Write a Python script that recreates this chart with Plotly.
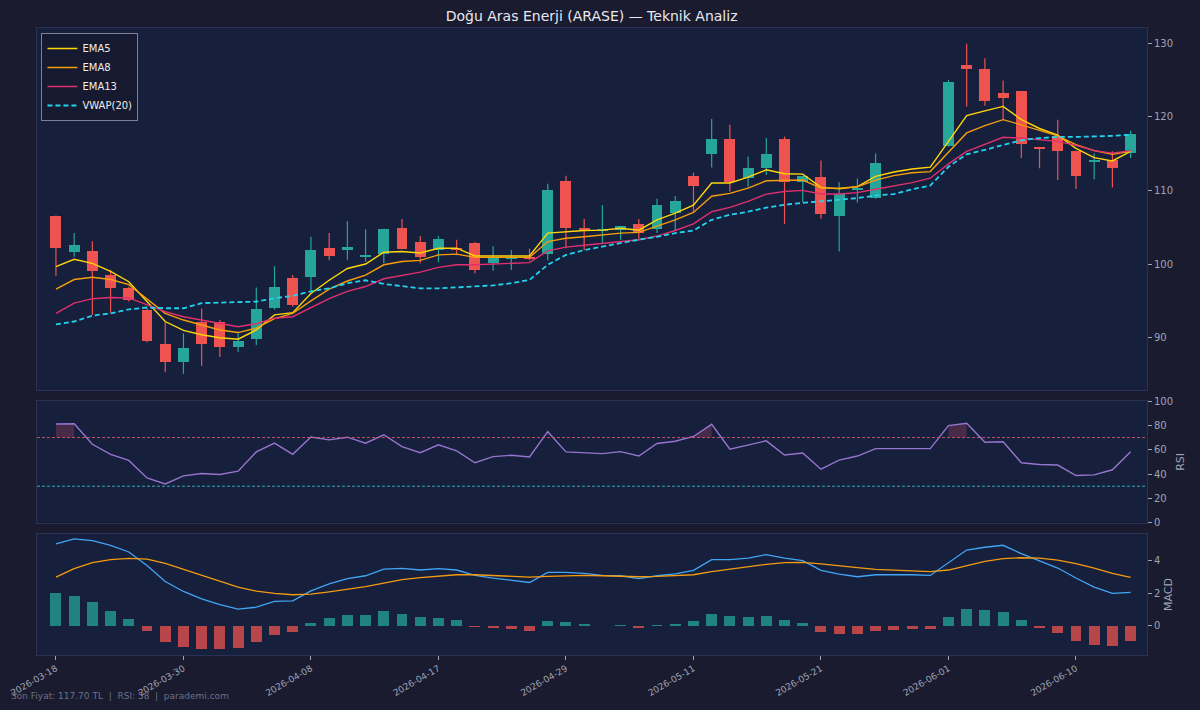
import plotly.graph_objects as go
from plotly.subplots import make_subplots

# trading days (Kurban Bayrami 05-27..05-29 forward filled, no candle drawn)
dates = [
    "2026-03-18", "2026-03-19", "2026-03-23", "2026-03-24", "2026-03-25", "2026-03-26",
    "2026-03-27", "2026-03-30", "2026-03-31", "2026-04-01", "2026-04-02", "2026-04-03",
    "2026-04-06", "2026-04-07", "2026-04-08", "2026-04-09", "2026-04-10", "2026-04-13",
    "2026-04-14", "2026-04-15", "2026-04-16", "2026-04-17", "2026-04-20", "2026-04-21",
    "2026-04-22", "2026-04-24", "2026-04-27", "2026-04-28", "2026-04-29", "2026-04-30",
    "2026-05-04", "2026-05-05", "2026-05-06", "2026-05-07", "2026-05-08", "2026-05-11",
    "2026-05-12", "2026-05-13", "2026-05-14", "2026-05-15", "2026-05-18", "2026-05-20",
    "2026-05-21", "2026-05-22", "2026-05-25", "2026-05-26", "2026-05-27", "2026-05-28",
    "2026-05-29", "2026-06-01", "2026-06-02", "2026-06-03", "2026-06-04", "2026-06-05",
    "2026-06-08", "2026-06-09", "2026-06-10", "2026-06-11", "2026-06-12", "2026-06-15",
]

open_ = [106.5, 101.7, 101.8, 98.5, 96.7, 93.8, 89.15, 86.7, 92.2, 92.2,
         88.8, 89.8, 94.0, 98.1, 98.2, 102.15, 101.9, 101.0, 101.4, 104.9,
         103.0, 101.9, 102.2, 102.8, 100.2, 100.8, 100.9, 101.3, 111.25, 104.9,
         104.6, 104.6, 105.45, 104.7, 106.9, 112.0, 115.0, 117.0, 111.65, 113.0,
         116.95, 111.1, 111.8, 106.55, 110.1, 109.0, None, None, None, 116.05,
         127.05, 126.5, 123.2, 123.45, 115.8, 117.4, 115.4, 113.9, 114.15, 115.05]
high = [106.6, 104.2, 103.1, 99.2, 96.9, 94.0, 92.2, 90.6, 93.95, 92.4,
        90.8, 96.8, 99.7, 98.5, 103.7, 104.2, 105.8, 104.7, 104.8, 106.1,
        103.8, 103.8, 103.3, 103.0, 102.4, 101.9, 102.1, 110.9, 112.0, 106.1,
        108.0, 105.1, 106.1, 108.85, 109.25, 112.4, 119.7, 118.9, 114.6, 117.1,
        117.3, 112.0, 114.05, 111.1, 111.6, 115.0, None, None, None, 125.0,
        129.9, 127.95, 124.9, 123.5, 115.9, 119.6, 115.4, 115.05, 115.3, 118.1]
low = [98.4, 101.0, 93.1, 93.4, 94.9, 89.4, 85.3, 85.1, 86.2, 87.4,
       88.1, 89.0, 93.8, 94.2, 96.4, 100.5, 100.6, 100.3, 100.1, 102.0,
       100.1, 100.25, 101.2, 98.75, 99.1, 99.2, 100.5, 100.5, 102.15, 101.9,
       102.8, 103.3, 103.2, 104.2, 104.55, 107.1, 113.1, 109.85, 110.5, 112.1,
       105.45, 108.35, 106.15, 101.7, 108.35, 108.85, None, None, None, 115.95,
       121.4, 121.5, 119.6, 114.4, 113.0, 111.4, 110.2, 111.5, 110.4, 114.4]
close = [102.2, 102.6, 99.0, 96.7, 95.1, 89.6, 86.7, 88.6, 89.15, 88.8,
         89.5, 93.9, 96.9, 94.45, 101.9, 101.1, 102.25, 101.2, 104.7, 102.1,
         100.9, 103.4, 101.9, 99.2, 100.8, 100.9, 100.8, 110.1, 104.9, 104.65,
         104.7, 105.1, 104.2, 107.95, 108.6, 110.6, 117.0, 111.1, 113.0, 115.0,
         111.2, 111.9, 106.8, 109.55, 110.3, 113.7, None, None, None, 124.65,
         126.5, 122.15, 122.5, 116.3, 115.65, 115.4, 112.0, 114.0, 113.0, 117.7]

ema5 = [99.66, 100.65, 100.1, 99.0, 97.6, 94.9, 92.2, 91.0, 90.4, 90.0,
        89.8, 91.05, 93.1, 93.4, 96.0, 97.8, 99.4, 100.0, 101.6, 101.7,
        101.5, 102.15, 102.15, 101.1, 101.1, 101.1, 101.1, 104.2, 104.4, 104.55,
        104.6, 104.85, 104.6, 106.0, 106.9, 108.0, 111.0, 111.0, 111.8, 112.8,
        112.25, 112.2, 110.4, 110.2, 110.5, 111.9, 112.5, 112.9, 113.15, 116.6,
        120.15, 120.8, 121.4, 119.6, 118.4, 117.5, 115.7, 114.45, 114.0, 115.3]
ema8 = [96.6, 97.9, 98.2, 97.9, 97.2, 95.2, 93.3, 92.4, 91.7, 91.05,
        90.7, 91.3, 92.6, 93.3, 95.0, 96.6, 97.7, 98.5, 99.9, 100.35,
        100.5, 101.25, 101.35, 100.9, 100.9, 100.9, 100.9, 103.05, 103.5, 103.7,
        104.0, 104.2, 104.3, 105.1, 106.0, 107.0, 109.2, 109.6, 110.3, 111.3,
        111.3, 111.4, 110.3, 110.3, 110.5, 111.4, 112.0, 112.4, 112.55, 115.15,
        117.8, 118.8, 119.6, 118.9, 118.2, 117.4, 116.2, 115.4, 114.9, 115.3]
ema13 = [93.3, 94.7, 95.3, 95.45, 95.4, 94.45, 93.55, 92.85, 92.4, 91.9,
         91.5, 91.9, 92.65, 92.85, 94.1, 95.3, 96.3, 96.95, 98.0, 98.5,
         98.9, 99.55, 99.9, 99.9, 100.0, 100.1, 100.2, 101.8, 102.3, 102.55,
         102.8, 103.05, 103.3, 103.8, 104.55, 105.45, 107.1, 107.7, 108.5, 109.5,
         109.85, 110.0, 109.5, 109.5, 109.7, 110.15, 110.6, 111.05, 111.65, 113.6,
         115.3, 116.2, 117.2, 117.1, 116.9, 116.65, 116.1, 115.4, 115.05, 115.4]
vwap20 = [91.8, 92.2, 93.0, 93.3, 93.85, 94.1, 94.0, 94.0, 94.7, 94.8,
          94.9, 94.9, 95.35, 95.7, 96.3, 96.7, 97.4, 97.8, 97.3, 96.95,
          96.7, 96.7, 96.8, 96.95, 97.1, 97.4, 97.85, 99.9, 101.25, 101.9,
          102.4, 102.9, 103.3, 103.7, 104.2, 104.55, 106.0, 106.7, 107.1, 107.65,
          108.05, 108.3, 108.5, 108.7, 108.95, 109.3, 109.5, 110.15, 110.65, 113.2,
          114.9, 115.5, 116.2, 116.8, 117.1, 117.25, 117.25, 117.3, 117.4, 117.55]

rsi = [81.2, 81.4, 64.5, 56.2, 51.2, 36.8, 31.9, 38.5, 40.4, 39.6,
       42.4, 58.2, 65.4, 56.2, 70.4, 68.1, 70.3, 65.4, 72.3, 62.6,
       57.6, 64.0, 59.0, 49.3, 54.3, 55.4, 54.0, 74.8, 58.2, 57.6,
       56.8, 58.4, 54.8, 65.1, 67.0, 70.9, 80.9, 60.4, 64.0, 67.3,
       55.7, 57.3, 44.0, 51.5, 54.8, 60.9, 60.9, 60.9, 60.9, 79.8,
       81.7, 66.2, 66.5, 49.3, 47.9, 47.4, 38.8, 39.3, 43.5, 58.4]

macd = [5.0, 5.31, 5.2, 4.92, 4.51, 3.69, 2.71, 2.1, 1.65, 1.29,
        1.02, 1.14, 1.49, 1.53, 2.14, 2.57, 2.88, 3.06, 3.47, 3.51,
        3.41, 3.49, 3.41, 3.08, 2.92, 2.8, 2.65, 3.27, 3.27, 3.2,
        3.08, 3.06, 2.88, 3.06, 3.18, 3.39, 4.04, 4.04, 4.14, 4.35,
        4.14, 3.98, 3.39, 3.16, 3.0, 3.12, 3.14, 3.12, 3.08, 3.88,
        4.63, 4.8, 4.92, 4.41, 3.98, 3.53, 2.92, 2.37, 1.98, 2.04]
signal = [2.98, 3.49, 3.86, 4.04, 4.12, 4.08, 3.82, 3.45, 3.08, 2.71,
          2.37, 2.12, 1.98, 1.9, 1.94, 2.08, 2.22, 2.39, 2.61, 2.82,
          2.94, 3.04, 3.12, 3.12, 3.08, 3.04, 2.98, 3.02, 3.06, 3.08,
          3.06, 3.02, 3.0, 3.02, 3.06, 3.12, 3.31, 3.47, 3.61, 3.76,
          3.86, 3.88, 3.78, 3.65, 3.55, 3.45, 3.39, 3.35, 3.31, 3.41,
          3.69, 3.94, 4.1, 4.16, 4.14, 4.02, 3.8, 3.53, 3.2, 2.96]
hist = [2.0, 1.84, 1.45, 0.88, 0.39, -0.31, -1.0, -1.29, -1.41, -1.41,
        -1.37, -1.0, -0.55, -0.39, 0.16, 0.47, 0.67, 0.67, 0.9, 0.73,
        0.53, 0.47, 0.33, -0.04, -0.1, -0.18, -0.31, 0.27, 0.22, 0.1,
        0.02, 0.04, -0.12, 0.04, 0.12, 0.27, 0.71, 0.61, 0.57, 0.63,
        0.33, 0.16, -0.35, -0.51, -0.51, -0.31, -0.24, -0.18, -0.18, 0.55,
        1.0, 0.94, 0.84, 0.35, -0.12, -0.45, -0.92, -1.16, -1.22, -0.9]

UP = "#26a69a"
DOWN = "#ef5350"
BG = "#1a1b2e"
PANEL = "#161f3b"
TXT = "#9ea3b5"
FONT = "DejaVu Sans"

idx = list(range(len(dates)))

fig = make_subplots(rows=3, cols=1, shared_xaxes=True, vertical_spacing=0.02)

# wicks, drawn first so the bodies sit on top
for up in (True, False):
    wx, wy = [], []
    for i in idx:
        if open_[i] is None:
            continue
        if (close[i] >= open_[i]) == up:
            wx += [i, i, None]
            wy += [low[i], high[i], None]
    fig.add_trace(go.Scatter(x=wx, y=wy, mode="lines", showlegend=False,
                             line=dict(color=UP if up else DOWN, width=1.2),
                             hoverinfo="skip"), row=1, col=1)

# candle bodies
body_x, body_base, body_h, body_col = [], [], [], []
for i in idx:
    if open_[i] is None:
        continue
    body_x.append(i)
    body_base.append(min(open_[i], close[i]))
    body_h.append(max(abs(close[i] - open_[i]), 0.06))
    body_col.append(UP if close[i] >= open_[i] else DOWN)
fig.add_trace(go.Bar(x=body_x, y=body_h, base=body_base, width=0.6,
                     marker=dict(color=body_col, line=dict(width=0)),
                     showlegend=False), row=1, col=1)

fig.add_trace(go.Scatter(x=idx, y=ema5, mode="lines", name="EMA5",
                         line=dict(color="#ffd60a", width=1.4)), row=1, col=1)
fig.add_trace(go.Scatter(x=idx, y=ema8, mode="lines", name="EMA8",
                         line=dict(color="#f59e0b", width=1.4)), row=1, col=1)
fig.add_trace(go.Scatter(x=idx, y=ema13, mode="lines", name="EMA13",
                         line=dict(color="#e0306f", width=1.4)), row=1, col=1)
fig.add_trace(go.Scatter(x=idx, y=vwap20, mode="lines", name="VWAP(20)",
                         line=dict(color="#22d3ee", width=1.8, dash="5px,3px")),
              row=1, col=1)

# RSI with overbought shading (segments where rsi > 70)
seg = []
for i in idx + [None]:
    if i is not None and rsi[i] > 70:
        seg.append(i)
        continue
    if len(seg) > 1:
        fig.add_trace(go.Scatter(
            x=seg + seg[::-1], y=[rsi[j] for j in seg] + [70] * len(seg),
            fill="toself", fillcolor="rgba(225,80,110,0.25)", mode="lines",
            line=dict(width=0), showlegend=False, hoverinfo="skip"), row=2, col=1)
    seg = []
fig.add_trace(go.Scatter(x=idx, y=rsi, mode="lines", showlegend=False,
                         line=dict(color="#9575cd", width=1.4)), row=2, col=1)
fig.add_hline(y=70, row=2, col=1, line=dict(color="#d9536d", width=0.9, dash="3px,2px"))
fig.add_hline(y=30, row=2, col=1, line=dict(color="#36b9c9", width=0.9, dash="3px,2px"))

# MACD
fig.add_trace(go.Bar(x=idx, y=hist, width=0.6, showlegend=False,
                     marker=dict(color=["rgba(38,166,154,0.75)" if h >= 0 else "rgba(239,83,80,0.75)"
                                        for h in hist], line=dict(width=0))),
              row=3, col=1)
fig.add_trace(go.Scatter(x=idx, y=macd, mode="lines", showlegend=False,
                         line=dict(color="#42a5f5", width=1.3)), row=3, col=1)
fig.add_trace(go.Scatter(x=idx, y=signal, mode="lines", showlegend=False,
                         line=dict(color="#f39c12", width=1.3)), row=3, col=1)

axis_common = dict(showgrid=False, zeroline=False, showline=True, mirror=True,
                   linecolor="#2a3152", linewidth=1, automargin=False)
yaxis_common = dict(axis_common, side="right", ticks="outside", ticklen=4,
                    tickcolor=TXT, tickfont=dict(size=10, color=TXT, family=FONT))

fig.update_layout(
    width=1200, height=710,
    paper_bgcolor=BG, plot_bgcolor=PANEL,
    margin=dict(l=37, r=53, t=28, b=55),
    font=dict(family=FONT, color=TXT),
    bargap=0, barmode="overlay",
    title=dict(text="Doğu Aras Enerji (ARASE) — Teknik Analiz",
               x=0.493, xanchor="center", y=0.977, yanchor="middle",
               font=dict(size=14, color="#e8e8ee", family=FONT)),
    legend=dict(x=0.004, y=0.992, xanchor="left", yanchor="top",
                bgcolor="#151a30", bordercolor="#7b8096", borderwidth=1,
                tracegroupgap=0, itemwidth=30,
                font=dict(size=10, color="#eeeeee", family=FONT)),
    yaxis=dict(yaxis_common, domain=[0.4226, 1.0], range=[82.9, 132.04],
               tickvals=[90, 100, 110, 120, 130]),
    yaxis2=dict(yaxis_common, domain=[0.211, 0.405], range=[0, 100],
                tickvals=[0, 20, 40, 60, 80, 100],
                title=dict(text="RSI", standoff=4, font=dict(size=11, color=TXT))),
    yaxis3=dict(yaxis_common, domain=[0.0, 0.193], range=[-1.78, 5.61],
                tickvals=[0, 2, 4],
                title=dict(text="MACD", standoff=4, font=dict(size=11, color=TXT))),
)
fig.update_xaxes(axis_common, range=[-1.04, 59.9])
fig.update_xaxes(tickvals=idx[::7], ticktext=dates[::7], tickangle=-30,
                 ticks="outside", ticklen=4, tickcolor=TXT,
                 tickfont=dict(size=9, color=TXT, family=FONT), row=3, col=1)

fig.add_annotation(
    text=f"Son Fiyat: {close[-1]:.2f} TL  |  RSI: {rsi[-1]:.0f}  |  parademi.com",
    xref="paper", yref="paper", x=-0.025, y=-0.065, xanchor="left", yanchor="middle",
    showarrow=False, font=dict(size=9, color="#6b7088", family=FONT))

fig.write_html("out.html", config={"displayModeBar": False},
               post_script="document.body.style.margin='0';"
               "document.body.style.background='" + BG + "';")
